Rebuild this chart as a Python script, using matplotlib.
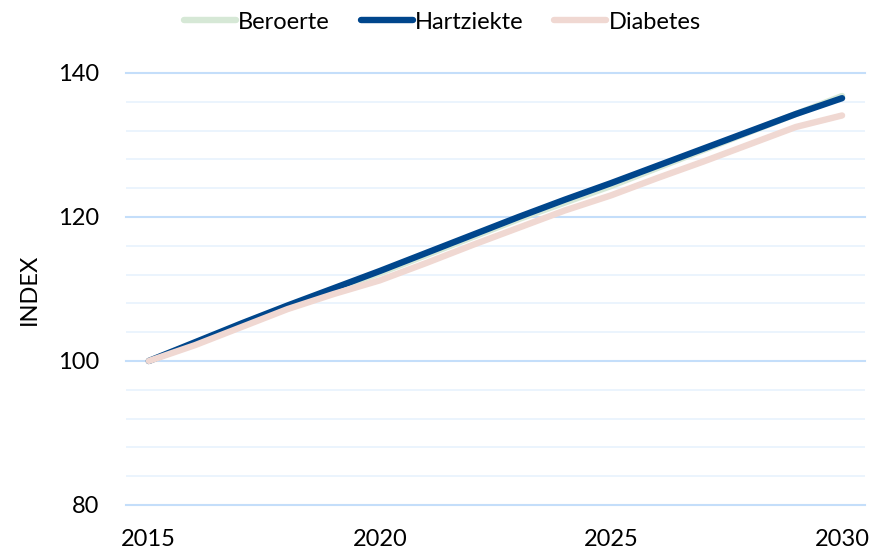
import matplotlib

matplotlib.use("Agg")
import matplotlib.pyplot as plt
from matplotlib.ticker import MultipleLocator

plt.rcParams["font.family"] = ["Lato", "DejaVu Sans"]

years = list(range(2015, 2031))
beroerte = [100, 102.5, 105.1, 107.6, 109.9, 112.2, 114.7, 117.2, 119.7,
            122.0, 124.3, 126.8, 129.3, 131.8, 134.3, 136.8]
hartziekte = [100, 102.6, 105.2, 107.7, 110.1, 112.5, 115.0, 117.5, 120.0,
              122.4, 124.7, 127.1, 129.5, 131.9, 134.3, 136.5]
diabetes = [100, 102.2, 104.7, 107.2, 109.3, 111.2, 113.6, 116.1, 118.5,
            120.9, 123.0, 125.4, 127.7, 130.1, 132.5, 134.1]

series = [("Beroerte", beroerte, "#d6e8d6"),
          ("Hartziekte", hartziekte, "#00468c"),
          ("Diabetes", diabetes, "#f0d8d2")]

fig = plt.figure(figsize=(8.9, 5.55), dpi=100)
ax = fig.add_axes([0.1412, 0.0901, 0.8309, 0.7784])

for name, vals, col in series:
    ax.plot(years, vals, color=col, lw=4.6, solid_capstyle="round",
            solid_joinstyle="round", label=name)

ax.set_xlim(2014.5, 2030.5)
ax.set_ylim(80, 140)
ax.set_xticks([2015, 2020, 2025, 2030])
ax.yaxis.set_major_locator(MultipleLocator(20))
ax.yaxis.set_minor_locator(MultipleLocator(4))
ax.grid(True, which="major", axis="y", color="#c4defa", lw=1.5)
ax.grid(True, which="minor", axis="y", color="#e8f2fd", lw=1.2)
ax.set_axisbelow(True)
# keep the 80/140 gridlines full width at the axes edges
for gl in ax.get_ygridlines():
    gl.set_clip_on(False)
for s in ax.spines.values():
    s.set_visible(False)
ax.tick_params(axis="both", which="both", length=0, labelsize=17)
ax.tick_params(axis="y", pad=19)
ax.tick_params(axis="x", pad=17)
ax.set_ylabel("INDEX", fontsize=17, labelpad=13)

ax.legend(loc="center", bbox_to_anchor=(0.497, 0.96),
          bbox_transform=fig.transFigure, ncol=3, frameon=False,
          fontsize=17, handlelength=2.2, handletextpad=0.1,
          columnspacing=1.3)

fig.savefig("out.png", dpi=100)
